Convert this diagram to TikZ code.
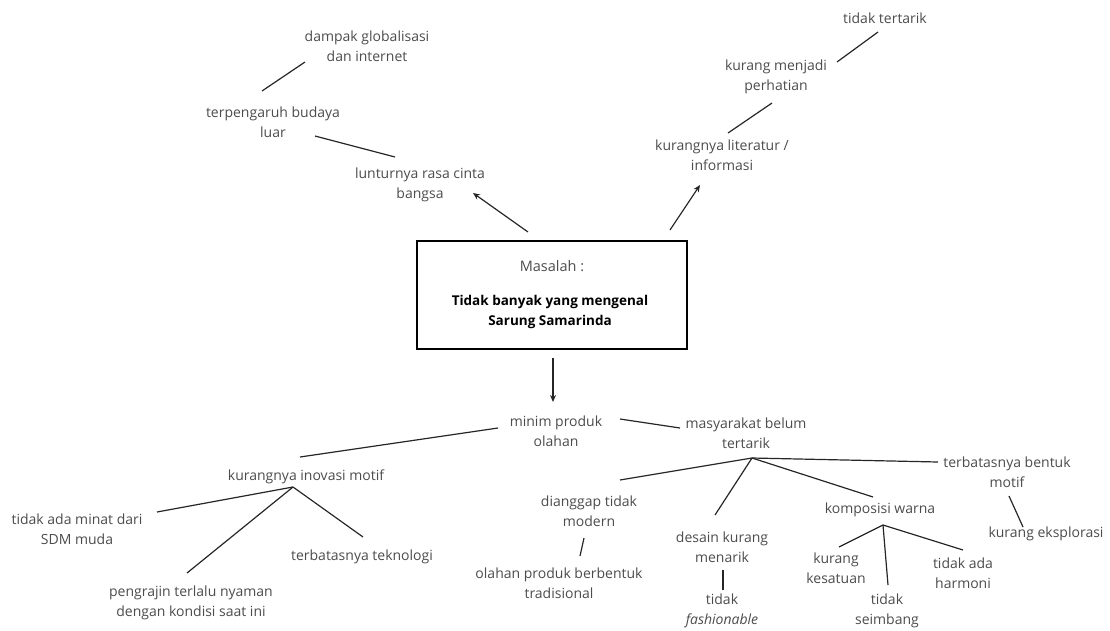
\documentclass[tikz,border=0pt]{standalone}
\usepackage{fontspec}
\setmainfont{Open Sans}
\usetikzlibrary{arrows.meta}

\tikzset{
  txt/.style={align=center, text=black!70, inner sep=2pt, font=\fontsize{14}{20}\selectfont},
  link/.style={line width=1.2pt, black!85},
  arrow/.style={link, -{Stealth[length=7pt,width=6pt]}}
}

\begin{document}
\begin{tikzpicture}[x=1pt,y=-1pt]
    \useasboundingbox (0,0) rectangle (1110,630);

    % Draw the problem box
    \node[draw, line width=2.8pt, minimum width=270pt, minimum height=108pt] (box) at (552,295) {};
    \node[txt, font=\fontsize{14.5}{20}\selectfont] (masalah) at (552,266) {Masalah :};
    \node[txt, text=black, font=\fontsize{13.5}{20}\selectfont\bfseries] (judul) at (550,312) {Tidak banyak yang mengenal\\Sarung Samarinda};

    % Upper left branch
    \node[txt] (glob) at (367,46) {dampak globalisasi\\dan internet};
    \node[txt] (terp) at (273,122) {terpengaruh budaya\\luar};
    \node[txt] (lunt) at (420,185) {lunturnya rasa cinta\\bangsa};

    % Upper right branch
    \node[txt] (lit) at (722,155) {kurangnya literatur /\\informasi};
    \node[txt] (perh) at (776,77) {kurang menjadi\\perhatian};
    \node[txt] (tt) at (885,18) {tidak tertarik};

    % Lower branches
    \node[txt] (minim) at (556,431) {minim produk\\olahan};
    \node[txt] (masy) at (746,433) {masyarakat belum\\tertarik};
    \node[txt] (kim) at (306,477) {kurangnya inovasi motif};
    \node[txt] (tam) at (77,529) {tidak ada minat dari\\SDM muda};
    \node[txt] (pt) at (191,603) {pengrajin terlalu nyaman\\dengan kondisi saat ini};
    \node[txt] (tek) at (362,557) {terbatasnya teknologi};
    \node[txt] (dtm) at (589,511) {dianggap tidak\\modern};
    \node[txt] (olp) at (559,583) {olahan produk berbentuk\\tradisional};
    \node[txt] (dkm) at (722,547) {desain kurang\\menarik};
    \node[txt] (tf) at (722,611) {tidak\\\textit{fashionable}};
    \node[txt] (kw) at (880,510) {komposisi warna};
    \node[txt] (kk) at (836,568) {kurang\\kesatuan};
    \node[txt] (tsb) at (887,611) {tidak\\seimbang};
    \node[txt] (tah) at (963,573) {tidak ada\\harmoni};
    \node[txt] (tbm) at (1007,472) {terbatasnya bentuk\\motif};
    \node[txt] (ke) at (1046,534) {kurang eksplorasi};

    % Fan points
    \coordinate (kimf) at ([shift={(-13,10)}]kim.center);
    \coordinate (masyf) at ([shift={(6,25)}]masy.center);
    \coordinate (kwf) at ([shift={(3,15)}]kw.center);

    % Arrows out of the box
    \draw[arrow] ([shift={(-24,-63)}]box.center) -- ([shift={(53,8)}]lunt.center);
    \draw[arrow] ([shift={(118,-65)}]box.center) -- ([shift={(-22,30)}]lit.center);
    \draw[arrow] ([shift={(1,63)}]box.center) -- ([shift={(-3,-29)}]minim.center);

    % Upper lines
    \draw[link] ([shift={(-11,-31)}]terp.center) -- ([shift={(-62,16)}]glob.center);
    \draw[link] ([shift={(42,14)}]terp.center) -- ([shift={(-25,-28)}]lunt.center);
    \draw[link] ([shift={(6,-22)}]lit.center) -- ([shift={(-4,26)}]perh.center);
    \draw[link] ([shift={(61,-15)}]perh.center) -- ([shift={(-7,14)}]tt.center);

    % Lower lines
    \draw[link] ([shift={(-58,-3)}]minim.center) -- ([shift={(-6,-20)}]kim.center);
    \draw[link] ([shift={(64,-12)}]minim.center) -- ([shift={(-66,-5)}]masy.center);
    \draw[link] (kimf) -- ([shift={(80,-17)}]tam.center);
    \draw[link] (kimf) -- ([shift={(-4,-30)}]pt.center);
    \draw[link] (kimf) -- ([shift={(1,-20)}]tek.center);
    \draw[link] (masyf) -- ([shift={(31,-31)}]dtm.center);
    \draw[link] (masyf) -- ([shift={(-7,-32)}]dkm.center);
    \draw[link] (masyf) -- ([shift={(-7,-13)}]kw.center);
    \draw[link] (masyf) -- ([shift={(-69,-10)}]tbm.center);
    \draw[link] ([shift={(-5,27)}]dtm.center) -- ([shift={(21,-27)}]olp.center);
    \draw[link] ([shift={(1,23)}]dkm.center) -- ([shift={(1,-21)}]tf.center);
    \draw[link] (kwf) -- ([shift={(3,-21)}]kk.center);
    \draw[link] (kwf) -- ([shift={(1,-26)}]tsb.center);
    \draw[link] (kwf) -- ([shift={(0,-23)}]tah.center);
    \draw[link] ([shift={(2,24)}]tbm.center) -- ([shift={(-23,-7)}]ke.center);

\end{tikzpicture}
\end{document}
